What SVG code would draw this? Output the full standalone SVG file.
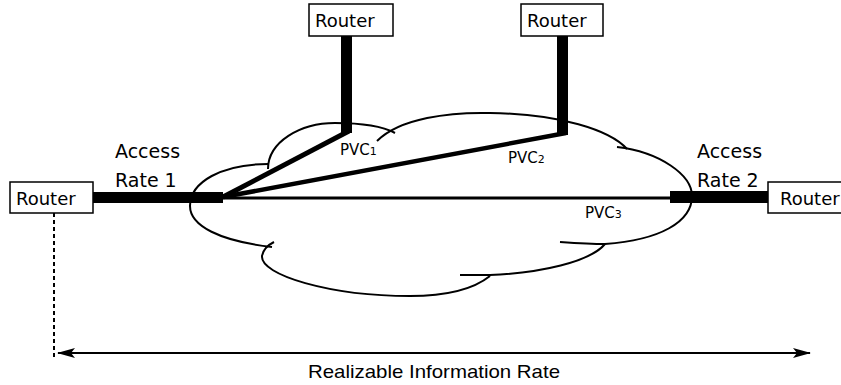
<svg xmlns="http://www.w3.org/2000/svg" width="841" height="385" viewBox="0 0 841 385">
<style>
.box{fill:#fff;stroke:#000;stroke-width:1.5}
.t{font-family:"DejaVu Sans",Verdana,sans-serif;font-size:18px;fill:#000}
.pvc{font-family:"DejaVu Sans",Verdana,sans-serif;font-size:15px;fill:#000}
.sub{font-size:11px}
.cloud{fill:none;stroke:#000;stroke-width:2}
.bar{fill:#000}
</style>
<defs>
<marker id="ah" viewBox="0 0 18 10" refX="17" refY="5" markerWidth="18" markerHeight="10" markerUnits="userSpaceOnUse" orient="auto-start-reverse">
<path d="M0,0 L18,5 L0,10 L4,5 Z" fill="#000"/>
</marker>
</defs>
<rect width="841" height="385" fill="#fff"/>
<g id="cloud">
<path class="cloud" d="M268,169 C268,142 300,123 335,123 C362,123 384,127 395,133"/>
<path class="cloud" d="M377,141 C400,118 450,112 490,113 C560,114 610,130 627,149"/>
<path class="cloud" d="M617,147 C660,152 692,175 692,196 C692,222 660,240 605,244 C590,244 575,243 560,242"/>
<path class="cloud" d="M605,244 C590,262 540,273 490,275 L460,275"/>
<path class="cloud" d="M490,276 C470,292 440,296 410,296 C330,296 260,275 262,256 C263,250 268,245 274,242"/>
<path class="cloud" d="M272,247 C220,241 190,226 190,206 C190,182 222,164 268,164"/>
</g>
<g id="connectors">
<rect class="bar" x="93" y="192" width="130" height="11"/>
<rect class="bar" x="341" y="36" width="11" height="97"/>
<rect class="bar" x="557" y="36" width="11" height="99"/>
<line x1="223" y1="197" x2="349" y2="131" stroke="#000" stroke-width="5"/>
<line x1="223" y1="197" x2="566" y2="133" stroke="#000" stroke-width="4.5"/>
<line x1="223" y1="198" x2="672" y2="198" stroke="#000" stroke-width="3"/>
<rect class="bar" x="670" y="191" width="98" height="12"/>
<line x1="54" y1="213" x2="54" y2="360" stroke="#000" stroke-width="2" stroke-dasharray="4,3"/>
<line x1="58" y1="353" x2="810" y2="353" stroke="#000" stroke-width="2" marker-start="url(#ah)" marker-end="url(#ah)"/>
</g>
<g id="router-left">
<rect class="box" x="10" y="182" width="83" height="31"/>
<text class="t" x="16" y="205">Router</text>
</g>
<g id="router-top1">
<rect class="box" x="309" y="4" width="84" height="32"/>
<text class="t" x="315" y="27">Router</text>
</g>
<g id="router-top2">
<rect class="box" x="521" y="4" width="82" height="32"/>
<text class="t" x="527" y="27">Router</text>
</g>
<g id="router-right">
<rect class="box" x="768" y="182" width="80" height="31"/>
<text class="t" x="780" y="205">Router</text>
</g>
<g id="labels">
<text class="t" x="115" y="158" style="font-size:19px">Access</text>
<text class="t" x="115" y="187" style="font-size:19px">Rate 1</text>
<text class="t" x="697" y="158" style="font-size:19px">Access</text>
<text class="t" x="697" y="187" style="font-size:19px">Rate 2</text>
<text class="pvc" x="340" y="155">PVC<tspan class="sub">1</tspan></text>
<text class="pvc" x="508" y="163">PVC<tspan class="sub">2</tspan></text>
<text class="pvc" x="585" y="218">PVC<tspan class="sub">3</tspan></text>
<text x="308" y="378" font-family="'Liberation Sans',Arial,sans-serif" font-size="19" textLength="252" lengthAdjust="spacingAndGlyphs">Realizable Information Rate</text>
</g>
</svg>
